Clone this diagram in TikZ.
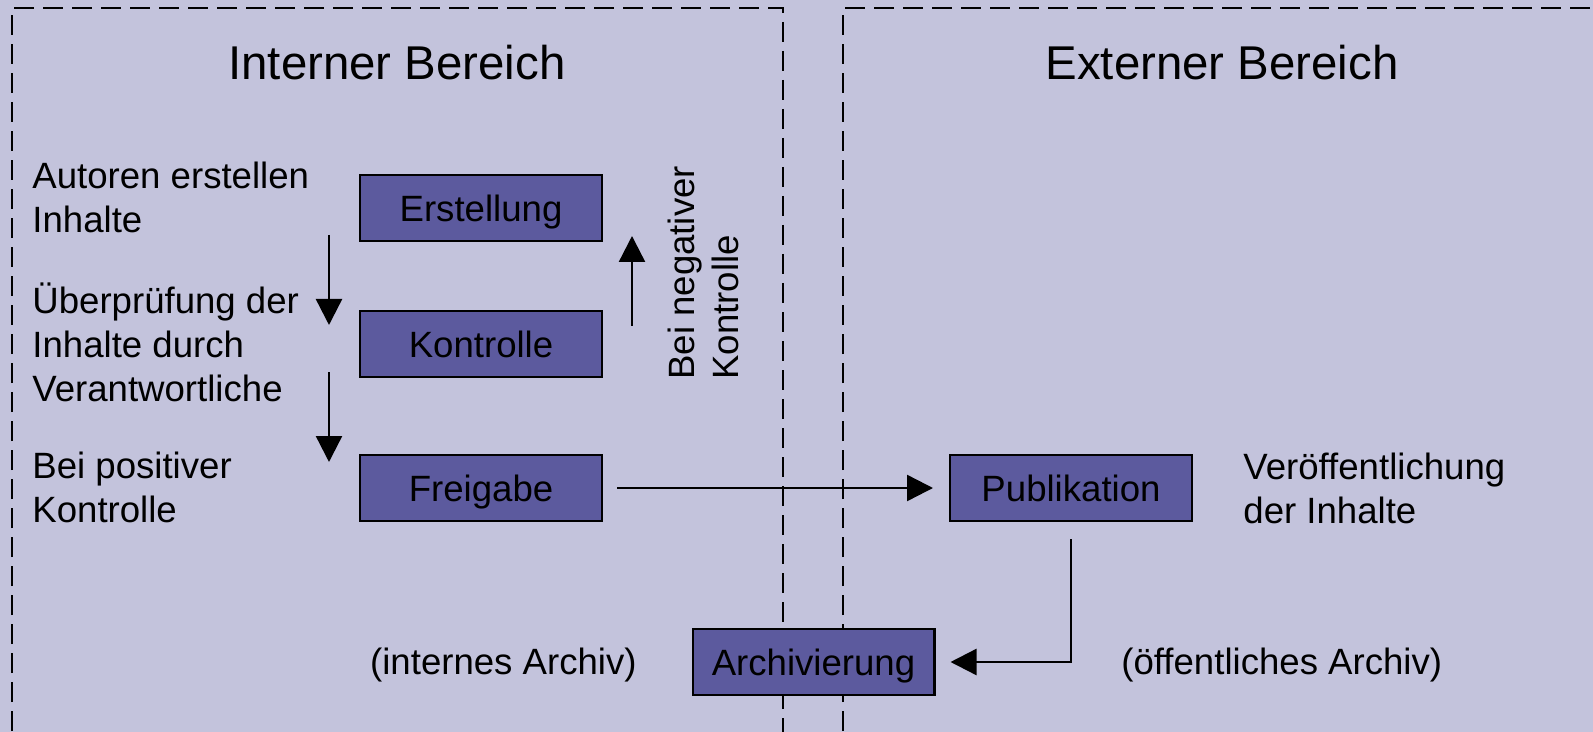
\documentclass[tikz,border=0pt]{standalone}
\usepackage{fontspec}
\setmainfont{Liberation Sans}
\usetikzlibrary{positioning,arrows.meta}
\definecolor{bgviolet}{HTML}{C3C3DC}
\definecolor{boxviolet}{HTML}{5C5A9E}
\tikzset{
    stepbox/.style={draw, line width=1.2pt, fill=boxviolet, minimum width=120.8pt, minimum height=32.8pt,
        inner sep=0pt, text height=13.1pt, text depth=0pt, font=\fontsize{18.3pt}{22pt}\selectfont},
    note/.style={align=left, inner sep=0pt, font=\fontsize{18.3pt}{22pt}\selectfont},
    head/.style={inner sep=0pt, font=\fontsize{23.7pt}{28pt}\selectfont},
    area/.style={dash pattern=on 10pt off 4.5pt, line width=1.2pt},
    arr/.style={-{Triangle[width=13pt,length=13pt]}, line width=1.2pt}
}
\begin{document}
\begin{tikzpicture}[x=0.5pt,y=-0.5pt]
        \useasboundingbox (0,0) rectangle (1593,732);
        \clip (0,0) rectangle (1593,732);
        \fill[bgviolet] (0,0) rectangle (1593,732);

        % Draw the two areas
        \draw[area] (12,760) -- (12,8) -- (783,8) -- (783,760);
        \draw[area] (843,760) -- (843,8) -- (1620,8);
        \node[head] (intern) at (397,63) {Interner Bereich};
        \node[head] (extern) at (1222,63) {Externer Bereich};

        % Steps
        \node[stepbox] (erst) at (481,208) {Erstellung};
        \node[stepbox, below=34pt of erst] (kontr) {Kontrolle};
        \node[stepbox, below=38pt of kontr] (frei) {Freigabe};
        \node[stepbox, right=173pt of frei] (pub) {Publikation};
        \node[stepbox] (arch) at (813.5,662) {Archivierung};

        % Notes
        \node[note, anchor=west] (autor) at (32,197) {Autoren erstellen\\Inhalte};
        \node[note, anchor=west] (pruef) at (32,342) {Überprüfung der\\Inhalte durch\\Verantwortliche};
        \node[note, anchor=west] (posit) at (32,487) {Bei positiver\\Kontrolle};
        \node[note, rotate=90, anchor=west] (negat) at (703,380) {Bei negativer\\Kontrolle};
        \node[note, anchor=west] (veroeff) at (1243,488) {Veröffentlichung\\der Inhalte};
        \node[note, anchor=east] (intarch) at (637,665) {(internes Archiv)};
        \node[note, anchor=west] (oeffarch) at (1121,665) {(öffentliches Archiv)};

        % Arrows
        \coordinate (down1a) at (329,235);
        \coordinate (down1b) at (329,325);
        \coordinate (down2a) at (329,372);
        \coordinate (down2b) at (329,462);
        \coordinate (upa) at (632,326);
        \coordinate (upb) at (632,236);
        \draw[arr] (down1a) -- (down1b);
        \draw[arr] (down2a) -- (down2b);
        \draw[arr] (upa) -- (upb);
        \draw[arr, shorten <=7pt, shorten >=8pt] (frei) -- (pub);
        \draw[arr, shorten <=8.5pt, shorten >=7.5pt] (pub) |- (arch);
\end{tikzpicture}
\end{document}
